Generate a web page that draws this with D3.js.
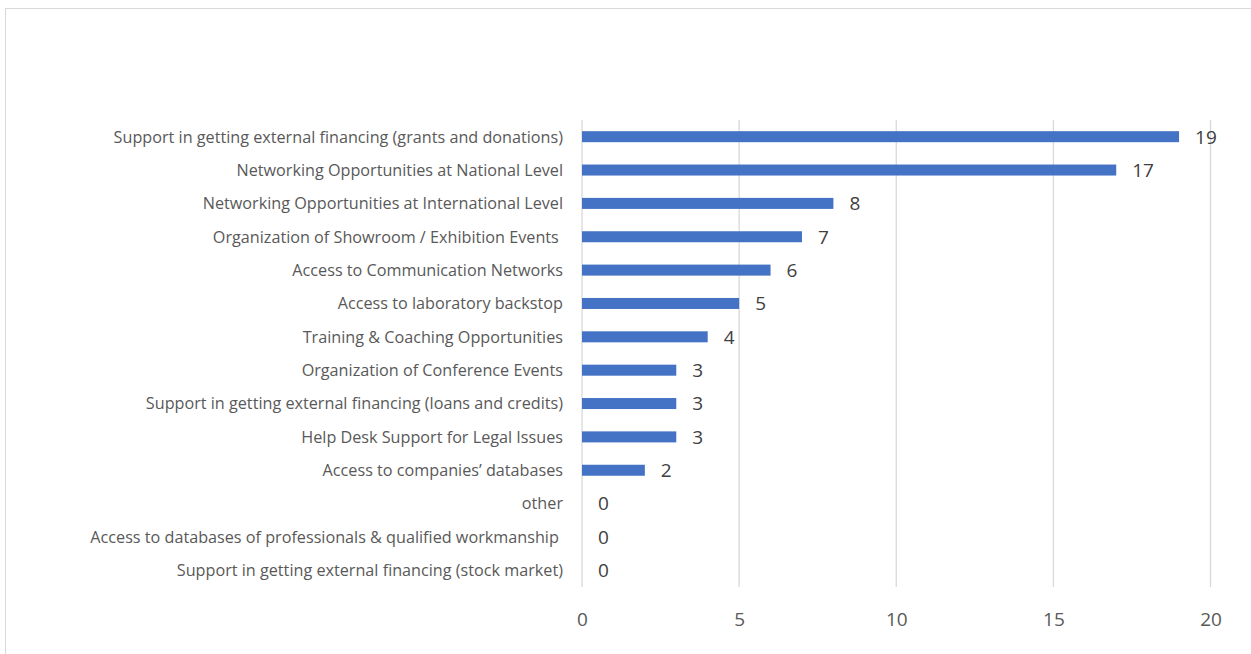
<!DOCTYPE html>
<html>
<head>
<meta charset="utf-8">
<script src="https://cdn.jsdelivr.net/npm/d3@7"></script>
<style>
  html, body { margin: 0; padding: 0; background: #fff; }
  svg { display: block; }
</style>
</head>
<body>
<svg id="chart" width="1251" height="654"></svg>
<script>
// categories, top to bottom
var categories = [
    "Support in getting external financing (grants and donations)",
    "Networking Opportunities at National Level",
    "Networking Opportunities at International Level",
    "Organization of Showroom / Exhibition Events ",
    "Access to Communication Networks",
    "Access to laboratory backstop",
    "Training & Coaching Opportunities",
    "Organization of Conference Events",
    "Support in getting external financing (loans and credits)",
    "Help Desk Support for Legal Issues",
    "Access to companies\u2019 databases",
    "other",
    "Access to databases of professionals & qualified workmanship ",
    "Support in getting external financing (stock market)"
];
var values = [19, 17, 8, 7, 6, 5, 4, 3, 3, 3, 2, 0, 0, 0];
var xTicks = [0, 5, 10, 15, 20];

var svg = d3.select("#chart");

// chart frame
svg.append("rect")
    .attr("x", 5.5).attr("y", 8.5)
    .attr("width", 1300).attr("height", 700)
    .attr("fill", "none").attr("stroke", "#d9d9d9").attr("stroke-width", 1);

var x = d3.scaleLinear().domain([0, 20]).range([582, 1210.5]);
var y = d3.scaleBand().domain(categories).range([120, 587]).paddingInner(0.67).paddingOuter(0.335);

// gridlines
svg.append("g").selectAll("line")
    .data(xTicks)
    .enter().append("line")
    .attr("x1", function (d) { return x(d); })
    .attr("x2", function (d) { return x(d); })
    .attr("y1", 120).attr("y2", 587)
    .attr("stroke", "#d9d9d9").attr("stroke-width", 1.3);

// x axis tick labels
var xAxis = d3.axisBottom(x).tickValues(xTicks).tickSize(0).tickPadding(0);
var gx = svg.append("g").attr("transform", "translate(0,626)").call(xAxis);
gx.select(".domain").remove();
gx.selectAll("text")
    .attr("dy", 0)
    .attr("font-family", "'Open Sans', sans-serif")
    .attr("font-size", 19)
    .attr("fill", "#595959");

// bars
svg.append("g").selectAll("rect")
    .data(values)
    .enter().append("rect")
    .attr("x", x(0))
    .attr("y", function (d, i) { return y(categories[i]); })
    .attr("width", function (d) { return x(d) - x(0); })
    .attr("height", y.bandwidth())
    .attr("fill", "#4472c4");

// value labels
svg.append("g").selectAll("text")
    .data(values)
    .enter().append("text")
    .attr("x", function (d) { return x(d) + 16; })
    .attr("y", function (d, i) { return y(categories[i]) + y.bandwidth() / 2; })
    .attr("dy", "0.36em")
    .attr("font-family", "'Open Sans', sans-serif")
    .attr("font-size", 19)
    .attr("fill", "#404040")
    .text(function (d) { return d; });

// category labels
svg.append("g").selectAll("text")
    .data(categories)
    .enter().append("text")
    .attr("x", 563)
    .attr("y", function (d) { return y(d) + y.bandwidth() / 2; })
    .attr("dy", "0.36em")
    .attr("text-anchor", "end")
    .attr("xml:space", "preserve")
    .style("white-space", "pre")
    .attr("font-family", "'Open Sans', sans-serif")
    .attr("font-size", 16.2)
    .attr("fill", "#595959")
    .text(function (d) { return d; });
</script>
</body>
</html>
